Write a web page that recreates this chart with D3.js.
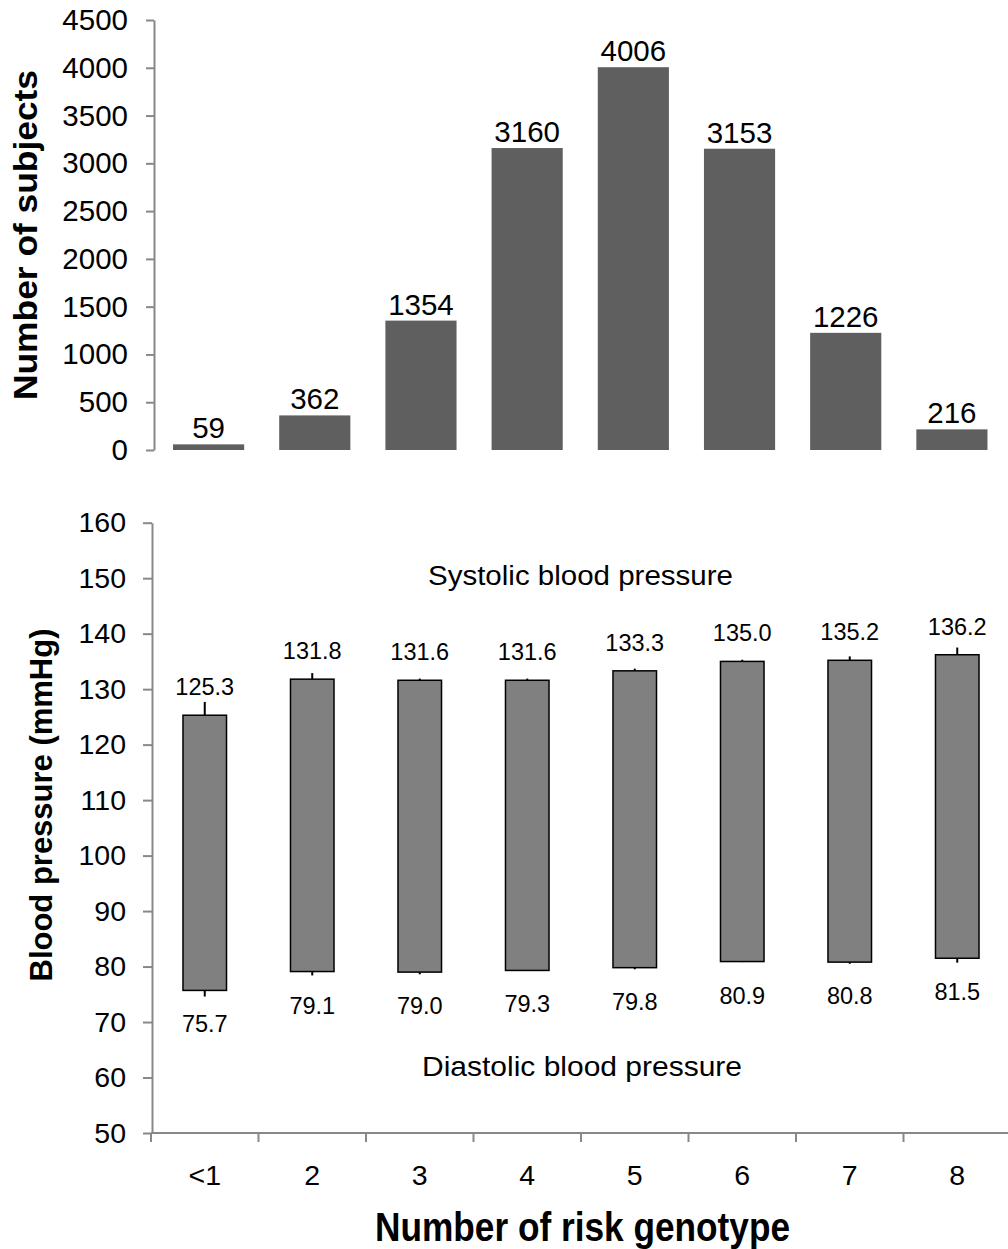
<!DOCTYPE html>
<html>
<head>
<meta charset="utf-8">
<script src="https://cdn.jsdelivr.net/npm/d3@7"></script>
<style>
  body { margin: 0; background: #fff; }
  svg { display: block; font-family: "Liberation Sans", Arial, sans-serif; }
</style>
</head>
<body>
<div id="chart"></div>
<script>
// values
const genotypes = ['<1', '2', '3', '4', '5', '6', '7', '8'];
const subjects = [59, 362, 1354, 3160, 4006, 3153, 1226, 216];
const systolic = [125.3, 131.8, 131.6, 131.6, 133.3, 135.0, 135.2, 136.2];
const diastolic = [75.7, 79.1, 79.0, 79.3, 79.8, 80.9, 80.8, 81.5];
const systolicErr = [2.4, 1.1, 0.3, 0.3, 0.4, 0.3, 0.7, 1.3];
const diastolicErr = [1.1, 0.7, 0.4, 0.1, 0.3, 0.1, 0.3, 0.8];
const subjectTicks = [0, 500, 1000, 1500, 2000, 2500, 3000, 3500, 4000, 4500];
const pressureTicks = [50, 60, 70, 80, 90, 100, 110, 120, 130, 140, 150, 160];

const width = 1008, height = 1249;
const axisColor = '#888';
const fmt = d3.format('.1f');

const svg = d3.select('#chart')
  .append('svg')
  .attr('width', width)
  .attr('height', height);

// ---------- top panel: number of subjects ----------
const topPad = 0.33;
const xTop = d3.scaleBand()
  .domain(genotypes)
  .range([155.5, 1005])
  .paddingInner(topPad)
  .paddingOuter(topPad / 2);

const yTop = d3.scaleLinear()
  .domain([0, 4500])
  .range([450, 20]);

const topAxis = svg.append('g')
  .attr('transform', 'translate(154,0)')
  .call(d3.axisLeft(yTop).tickValues(subjectTicks).tickFormat(d3.format('d'))
    .tickSize(8).tickSizeOuter(0).tickPadding(18));
topAxis.select('.domain').attr('stroke', axisColor).attr('stroke-width', 2);
topAxis.selectAll('.tick line').attr('stroke', axisColor).attr('stroke-width', 2);
topAxis.selectAll('.tick text').attr('font-size', 29.5).attr('fill', '#000')
  .attr('font-family', '"Liberation Sans", Arial, sans-serif');

const data = genotypes.map((g, i) => ({
  g, n: subjects[i], sys: systolic[i], dia: diastolic[i],
  sysErr: systolicErr[i], diaErr: diastolicErr[i]
}));

svg.selectAll('.count-bar')
  .data(data)
  .enter()
  .append('rect')
  .attr('class', 'count-bar')
  .attr('x', d => xTop(d.g))
  .attr('y', d => yTop(d.n))
  .attr('width', xTop.bandwidth())
  .attr('height', d => yTop(0) - yTop(d.n))
  .attr('fill', '#5f5f5f');

svg.selectAll('.count-label')
  .data(data)
  .enter()
  .append('text')
  .attr('class', 'count-label')
  .attr('x', d => xTop(d.g) + xTop.bandwidth() / 2)
  .attr('y', d => yTop(d.n) - 6)
  .attr('text-anchor', 'middle')
  .attr('font-size', 29.5)
  .text(d => d.n);

svg.append('text')
  .attr('transform', 'translate(37,235) rotate(-90)')
  .attr('text-anchor', 'middle')
  .attr('font-size', 34)
  .attr('font-weight', 'bold')
  .attr('textLength', 330)
  .attr('lengthAdjust', 'spacingAndGlyphs')
  .text('Number of subjects');

// ---------- bottom panel: blood pressure ----------
const botPad = 0.595;
const xBot = d3.scaleBand()
  .domain(genotypes)
  .range([151, 1011])
  .paddingInner(botPad)
  .paddingOuter(botPad / 2);

const yBot = d3.scaleLinear()
  .domain([50, 160])
  .range([1133, 522.7]);

const botAxis = svg.append('g')
  .attr('transform', 'translate(152,0)')
  .call(d3.axisLeft(yBot).tickValues(pressureTicks).tickSize(9).tickSizeOuter(0).tickPadding(17));
botAxis.select('.domain').attr('stroke', axisColor).attr('stroke-width', 2);
botAxis.selectAll('.tick line').attr('stroke', axisColor).attr('stroke-width', 2);
botAxis.selectAll('.tick text').attr('font-size', 28.5).attr('fill', '#000')
  .attr('font-family', '"Liberation Sans", Arial, sans-serif');

// x axis line and category boundary ticks
svg.append('line')
  .attr('x1', 151).attr('x2', width)
  .attr('y1', yBot(50)).attr('y2', yBot(50))
  .attr('stroke', axisColor).attr('stroke-width', 2);

const cellEdge = d => xBot(d) - xBot.step() * botPad / 2;
svg.selectAll('.cell-tick')
  .data(genotypes)
  .enter()
  .append('line')
  .attr('class', 'cell-tick')
  .attr('x1', d => cellEdge(d)).attr('x2', d => cellEdge(d))
  .attr('y1', yBot(50)).attr('y2', yBot(50) + 9)
  .attr('stroke', axisColor).attr('stroke-width', 2);

const xAxis = svg.append('g')
  .attr('transform', `translate(0,${yBot(50)})`)
  .call(d3.axisBottom(xBot).tickSize(0).tickPadding(32));
xAxis.select('.domain').remove();
xAxis.selectAll('.tick text').attr('font-size', 28.5).attr('fill', '#000')
  .attr('font-family', '"Liberation Sans", Arial, sans-serif');

// error bars (systolic up, diastolic down)
const cx = d => xBot(d.g) + xBot.bandwidth() / 2;
svg.selectAll('.sys-err')
  .data(data)
  .enter()
  .append('line')
  .attr('x1', cx).attr('x2', cx)
  .attr('y1', d => yBot(d.sys)).attr('y2', d => yBot(d.sys + d.sysErr))
  .attr('stroke', '#000').attr('stroke-width', 2);

svg.selectAll('.dia-err')
  .data(data)
  .enter()
  .append('line')
  .attr('x1', cx).attr('x2', cx)
  .attr('y1', d => yBot(d.dia)).attr('y2', d => yBot(d.dia - d.diaErr))
  .attr('stroke', '#000').attr('stroke-width', 2);

svg.selectAll('.bp-bar')
  .data(data)
  .enter()
  .append('rect')
  .attr('class', 'bp-bar')
  .attr('x', d => xBot(d.g))
  .attr('y', d => yBot(d.sys))
  .attr('width', xBot.bandwidth())
  .attr('height', d => yBot(d.dia) - yBot(d.sys))
  .attr('fill', '#808080')
  .attr('stroke', '#000')
  .attr('stroke-width', 1.5);

svg.selectAll('.sys-label')
  .data(data)
  .enter()
  .append('text')
  .attr('x', cx)
  .attr('y', d => yBot(d.sys) - 20)
  .attr('text-anchor', 'middle')
  .attr('font-size', 23.5)
  .text(d => fmt(d.sys));

svg.selectAll('.dia-label')
  .data(data)
  .enter()
  .append('text')
  .attr('x', cx)
  .attr('y', d => yBot(d.dia) + 42)
  .attr('text-anchor', 'middle')
  .attr('font-size', 23.5)
  .text(d => fmt(d.dia));

svg.append('text')
  .attr('x', 580.5).attr('y', 585)
  .attr('text-anchor', 'middle')
  .attr('font-size', 27)
  .attr('textLength', 305)
  .attr('lengthAdjust', 'spacingAndGlyphs')
  .text('Systolic blood pressure');

svg.append('text')
  .attr('x', 582).attr('y', 1076)
  .attr('text-anchor', 'middle')
  .attr('font-size', 28)
  .attr('textLength', 320)
  .attr('lengthAdjust', 'spacingAndGlyphs')
  .text('Diastolic blood pressure');

svg.append('text')
  .attr('transform', 'translate(52,805) rotate(-90)')
  .attr('text-anchor', 'middle')
  .attr('font-size', 31)
  .attr('font-weight', 'bold')
  .attr('textLength', 353)
  .attr('lengthAdjust', 'spacingAndGlyphs')
  .text('Blood pressure (mmHg)');

svg.append('text')
  .attr('x', 582.5).attr('y', 1241)
  .attr('text-anchor', 'middle')
  .attr('font-size', 40)
  .attr('font-weight', 'bold')
  .attr('textLength', 415)
  .attr('lengthAdjust', 'spacingAndGlyphs')
  .text('Number of risk genotype');
</script>
</body>
</html>
